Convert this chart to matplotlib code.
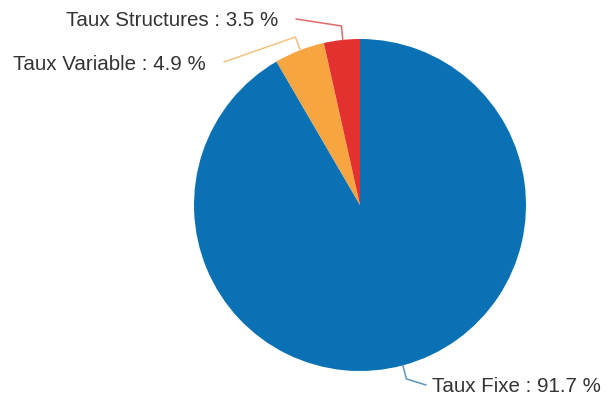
import numpy as np
import matplotlib.pyplot as plt

labels = ["Taux Fixe", "Taux Variable", "Taux Structures"]
shares = [91.7, 4.9, 3.5]
colors = ["#0a72b4", "#f7a541", "#e2312f"]
line_colors = ["#5b93c0", "#f3c27e", "#e06a6a"]

# label anchors in pixel space (x, y from bottom) and alignment
label_pos = [(432, 13, "left"), (206, 336, "right"), (278, 379, "right")]

fig = plt.figure(figsize=(6.12, 4.0), dpi=100)
ax = fig.add_axes([0, 0, 1, 1])

cx, cy, r = 360, 195, 166
ax.pie(shares, colors=colors, startangle=90, counterclock=False,
       center=(cx, cy), radius=r, frame=True,
       wedgeprops=dict(linewidth=0))
ax.set_xlim(0, 612)
ax.set_ylim(0, 400)
ax.set_aspect("equal")
ax.axis("off")

start = 90.0
for lab, val, lc, (tx, ty, ha) in zip(labels, shares, line_colors, label_pos):
    span = val / 100 * 360
    mid = np.deg2rad(start - span / 2)
    start -= span
    ex, ey = cx + r * np.cos(mid), cy + r * np.sin(mid)
    ox, oy = cx + (r + 14) * np.cos(mid), cy + (r + 14) * np.sin(mid)
    if ha == "left":
        kx = tx - 6
    else:
        kx = tx + 18
    ax.plot([ex, ox, kx], [ey, oy, ty + 2], color=lc, lw=1.1,
            solid_capstyle="round")
    ax.text(tx, ty, f"{lab} : {val} %", ha=ha, va="center",
            fontsize=14.8, color="#333333", family="Liberation Sans")

fig.savefig("out.png", dpi=100)
